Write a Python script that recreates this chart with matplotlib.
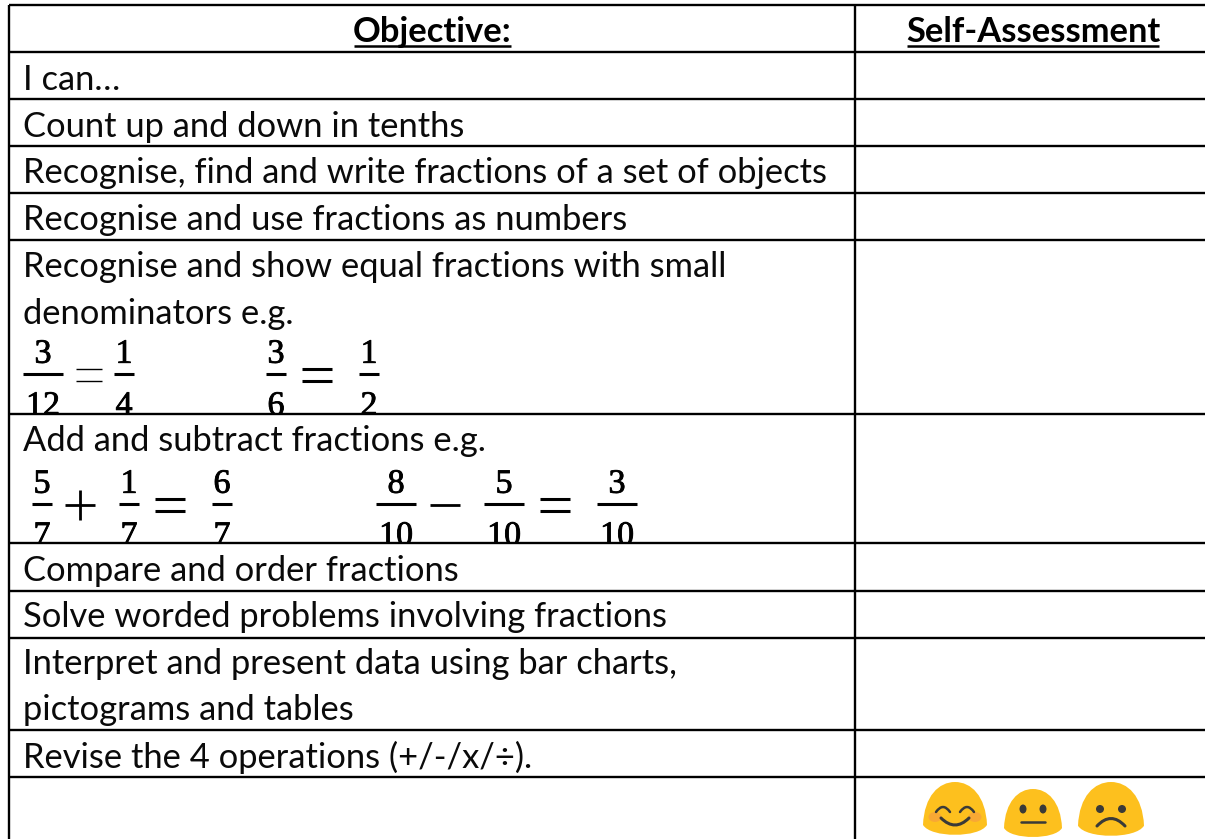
import matplotlib
matplotlib.use("Agg")
import matplotlib.pyplot as plt
import matplotlib.patheffects as pe
from matplotlib.patches import PathPatch, Rectangle, Ellipse
from matplotlib.path import Path

plt.rcParams['font.family'] = ['Lato', 'DejaVu Sans']
BODY = 24.8
NUM = 24.5
W, H = 1205, 839

headers = [("Objective:", 432.5, 354, 511), ("Self-Assessment", 1033, 907, 1159)]
row_lines = [5, 52, 99, 146, 193, 240, 414, 543, 591, 638, 730, 777]
body_text = [
    ("I can…", 77),
    ("Count up and down in tenths", 124),
    ("Recognise, find and write fractions of a set of objects", 170),
    ("Recognise and use fractions as numbers", 217),
    ("Recognise and show equal fractions with small", 264),
    ("denominators e.g.", 311),
    ("Add and subtract fractions e.g.", 438),
    ("Compare and order fractions", 568),
    ("Solve worded problems involving fractions", 614),
    ("Interpret and present data using bar charts,", 661),
    ("pictograms and tables", 707),
    ("Revise the 4 operations (+/-/x/÷).", 754),
]
# numerator, denominator, centre x, bar half width
fractions_a = [("3", "12", 43, 20), ("1", "4", 124, 10), ("3", "6", 276, 10), ("1", "2", 369, 10)]
fractions_b = [("5", "7", 42, 10), ("1", "7", 129, 10), ("6", "7", 222, 10),
               ("8", "10", 396, 20), ("5", "10", 504, 20), ("3", "10", 617, 20)]
signs_a = [("=", 89, 13, 1.0), ("=", 317, 15, 2.2)]
signs_b = [("+", 80, 15, 2.0), ("=", 170, 15, 2.2), ("−", 445, 15, 2.0), ("=", 555, 15, 2.2)]

fig = plt.figure(figsize=(W / 100, H / 100), dpi=100)
ax = fig.add_axes([0, 0, 1, 1])
ax.set_xlim(0, W)
ax.set_ylim(H, 0)
ax.axis("off")

for label, cx, x0, x1 in headers:
    ax.text(cx, 29, label, fontsize=BODY, fontweight="bold", ha="center",
            va="center_baseline", color="black")
    ax.plot([x0, x1], [46, 46], color="black", lw=1.8, solid_capstyle="butt")

for label, y in body_text:
    ax.text(23, y, label, fontsize=BODY, ha="left", va="center_baseline", color="#0a0a0a")


def draw_fractions(items, num_y, bar_y, den_y, clip_bottom):
    clip = Rectangle((0, 0), W, clip_bottom, transform=ax.transData)
    stroke = [pe.withStroke(linewidth=0.6, foreground="black")]
    for num, den, cx, half in items:
        ax.text(cx, num_y, num, fontsize=NUM, family="Liberation Serif", ha="center",
                va="center_baseline", path_effects=stroke)
        dt = ax.text(cx, den_y, den, fontsize=NUM, family="Liberation Serif", ha="center",
                     va="center_baseline", path_effects=stroke)
        dt.set_clip_on(True)
        dt.set_clip_path(clip)
        ax.plot([cx - half, cx + half], [bar_y, bar_y], color="black", lw=2.2, solid_capstyle="butt")


def draw_sign(sign, x, y, half, lw):
    kw = dict(color="black", lw=lw, solid_capstyle="butt")
    if sign == "=":
        ax.plot([x - half, x + half], [y - 6, y - 6], **kw)
        ax.plot([x - half, x + half], [y + 6, y + 6], **kw)
    else:
        ax.plot([x - half, x + half], [y, y], **kw)
        if sign == "+":
            ax.plot([x, x], [y - half, y + half], **kw)


draw_fractions(fractions_a, 351, 374, 403, 414)
draw_fractions(fractions_b, 481, 504, 533, 543)
for sign, x, half, lw in signs_a:
    draw_sign(sign, x, 375, half, lw)
for sign, x, half, lw in signs_b:
    draw_sign(sign, x, 505, half, lw)

for y in row_lines:
    ax.plot([9, W], [y, y], color="black", lw=1.7, solid_capstyle="butt", zorder=5)
for x in (9, 855):
    ax.plot([x, x], [5, H], color="black", lw=1.7, solid_capstyle="butt", zorder=5)


def dome(x0, x1, y0, y1):
    w, h = x1 - x0, y1 - y0
    cx = (x0 + x1) / 2
    verts = [(x0, y0 + .78 * h),
             (x0 + .02 * w, y0 + .25 * h), (x0 + .25 * w, y0), (cx, y0),
             (x0 + .75 * w, y0), (x1 - .02 * w, y0 + .25 * h), (x1, y0 + .78 * h),
             (x1 - .12 * w, y1 + .02 * h), (x0 + .12 * w, y1 + .02 * h), (x0, y0 + .78 * h)]
    codes = [Path.MOVETO] + [Path.CURVE4] * 9
    ax.add_patch(PathPatch(Path(verts, codes), fc="#FDC01E", ec="none", zorder=6))


def curve(p0, p1, p2, lw=1.8, color="#3a3a38"):
    ax.add_patch(PathPatch(Path([p0, p1, p2], [Path.MOVETO, Path.CURVE3, Path.CURVE3]),
                           fc="none", ec=color, lw=lw, capstyle="round", zorder=8))


# happy face
dome(923, 987, 782, 837)
for cx in (935, 975):
    ax.add_patch(Ellipse((cx, 817), 13, 10, fc="#F7A13C", ec="none", alpha=.75, zorder=7))
curve((936, 812), (943, 802), (950, 812))
curve((960, 812), (967, 802), (974, 812))
curve((941, 818), (955, 832), (969, 818), lw=2.2)
# neutral face
dome(1004, 1062, 789, 839)
ax.add_patch(Ellipse((1023, 809), 7, 9, fc="#3a3a38", ec="none", zorder=8))
ax.add_patch(Ellipse((1043, 809), 7, 9, fc="#3a3a38", ec="none", zorder=8))
ax.plot([1021, 1045], [822, 822], color="#3a3a38", lw=1.8, solid_capstyle="round", zorder=8)
# sad face
dome(1078, 1144, 782, 838)
ax.add_patch(Ellipse((1100, 809), 8, 8, fc="#3a3a38", ec="none", zorder=8))
ax.add_patch(Ellipse((1122, 809), 8, 8, fc="#3a3a38", ec="none", zorder=8))
curve((1097, 826), (1111, 811), (1125, 826), lw=2.2)

fig.savefig("out.png", dpi=100, facecolor="white")
